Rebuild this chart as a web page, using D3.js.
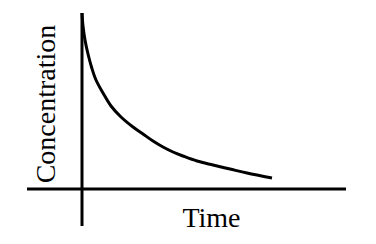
<!DOCTYPE html>
<html lang="en">
  <head>
    <meta charset="UTF-8">
    <title>Concentration vs Time</title>
    <style>
body{
    margin: 0;
    background: #fff;
}
svg{
    display: block;
}
    </style>
  </head>
  <body>
    <script src="https://cdn.jsdelivr.net/npm/d3@7/dist/d3.min.js" charset="UTF-8"></script>
    <script>
// curve (arbitrary units)
var time = [0, 1, 3, 6, 9.5, 14, 21, 29, 39, 51, 61, 71, 81, 91, 101, 115, 131, 148, 165, 190];
var concentration = [176, 163, 149, 135, 122, 109, 96, 83, 72, 62, 55, 48, 42, 37, 33, 28, 24, 20, 16, 11];
var xLabel = "Time", yLabel = "Concentration";

var width = 376, height = 244;

var x = d3.scaleLinear().domain([-55, 264]).range([27, 346]);
var y = d3.scaleLinear().domain([-37, 176]).range([226, 13]);

var svg = d3.select("body").append("svg")
            .attr("width", width)
            .attr("height", height);

// axes: plain lines crossing at the origin, no ticks
svg.append("line")
   .attr("x1", x(x.domain()[0])).attr("x2", x(x.domain()[1]))
   .attr("y1", y(0)).attr("y2", y(0))
   .attr("stroke", "#000").attr("stroke-width", 3);

svg.append("line")
   .attr("x1", x(0)).attr("x2", x(0))
   .attr("y1", y(y.domain()[0])).attr("y2", y(y.domain()[1]))
   .attr("stroke", "#000").attr("stroke-width", 3);

var line = d3.line()
             .x(function(d, i){ return x(time[i]); })
             .y(function(d){ return y(d); })
             .curve(d3.curveCatmullRom.alpha(0.5));

svg.append("path")
   .datum(concentration)
   .attr("d", line)
   .attr("fill", "none")
   .attr("stroke", "#000")
   .attr("stroke-width", 3);

svg.append("text")
   .attr("x", 211.5)
   .attr("y", 227)
   .attr("text-anchor", "middle")
   .attr("font-family", "'Liberation Serif', 'Times New Roman', serif")
   .attr("font-size", 28)
   .text(xLabel);

svg.append("text")
   .attr("transform", "translate(55,104) rotate(-90)")
   .attr("text-anchor", "middle")
   .attr("font-family", "'Liberation Serif', 'Times New Roman', serif")
   .attr("font-size", 28)
   .text(yLabel);
    </script>
  </body>
</html>
